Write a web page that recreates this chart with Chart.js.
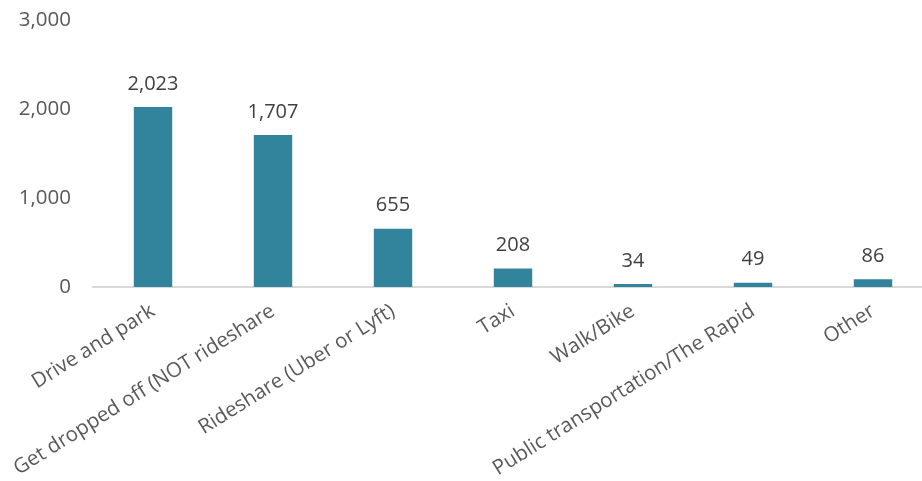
<!DOCTYPE html>
<html>
<head>
<meta charset="utf-8">
<script src="https://cdn.jsdelivr.net/npm/chart.js@4/dist/chart.umd.min.js"></script>
<style>
  html, body { margin: 0; padding: 0; background: #fff; overflow: hidden; }
  #wrap { width: 933px; height: 481px; }
</style>
</head>
<body>
<div id="wrap"><canvas id="chart" width="933" height="481"></canvas></div>
<script>
// values
const categories = [
  "Drive and park",
  "Get dropped off (NOT rideshare",
  "Rideshare (Uber or Lyft)",
  "Taxi",
  "Walk/Bike",
  "Public transportation/The Rapid",
  "Other"
];
const counts = [2023, 1707, 655, 208, 34, 49, 86];
const yTicks = [0, 1000, 2000, 3000];

const barColor = "#31849b";
const fontFam = "'Open Sans', sans-serif";

// draws the number above each bar
const valueLabels = {
  id: "valueLabels",
  afterDatasetsDraw(chart) {
    const ctx = chart.ctx;
    const meta = chart.getDatasetMeta(0);
    ctx.save();
    ctx.font = "20px " + fontFam;
    ctx.fillStyle = "#404040";
    ctx.textAlign = "center";
    ctx.textBaseline = "bottom";
    meta.data.forEach(function (bar, i) {
      ctx.fillText(counts[i].toLocaleString("en-US"), bar.x, bar.y - 13);
    });
    ctx.restore();
  }
};

new Chart(document.getElementById("chart"), {
  type: "bar",
  data: {
    labels: categories,
    datasets: [{
      data: counts,
      backgroundColor: barColor,
      borderWidth: 0,
      barPercentage: 0.32,
      categoryPercentage: 1
    }]
  },
  options: {
    responsive: false,
    animation: false,
    layout: { padding: { top: 20, left: 0, right: 0, bottom: 0 } },
    plugins: { legend: { display: false }, tooltip: { enabled: false } },
    scales: {
      x: {
        grid: { display: false, drawTicks: false },
        border: { display: true, color: "#d9d9d9", width: 2 },
        ticks: {
          color: "#595959",
          font: { family: fontFam, size: 20.5 },
          minRotation: 32,
          maxRotation: 32,
          autoSkip: false,
          padding: 12
        },
        afterFit(scale) { scale.height = 194; }
      },
      y: {
        min: 0,
        max: 3000,
        afterBuildTicks(scale) { scale.ticks = yTicks.map(v => ({ value: v })); },
        grid: { display: false, drawTicks: false },
        border: { display: false },
        ticks: {
          color: "#595959",
          font: { family: fontFam, size: 20.5 },
          padding: 22,
          callback: v => v.toLocaleString("en-US")
        },
        afterFit(scale) {
          scale.width = 93;
          scale.paddingTop = 0;
          scale.paddingBottom = 0;
        }
      }
    }
  },
  plugins: [valueLabels]
});
</script>
</body>
</html>
